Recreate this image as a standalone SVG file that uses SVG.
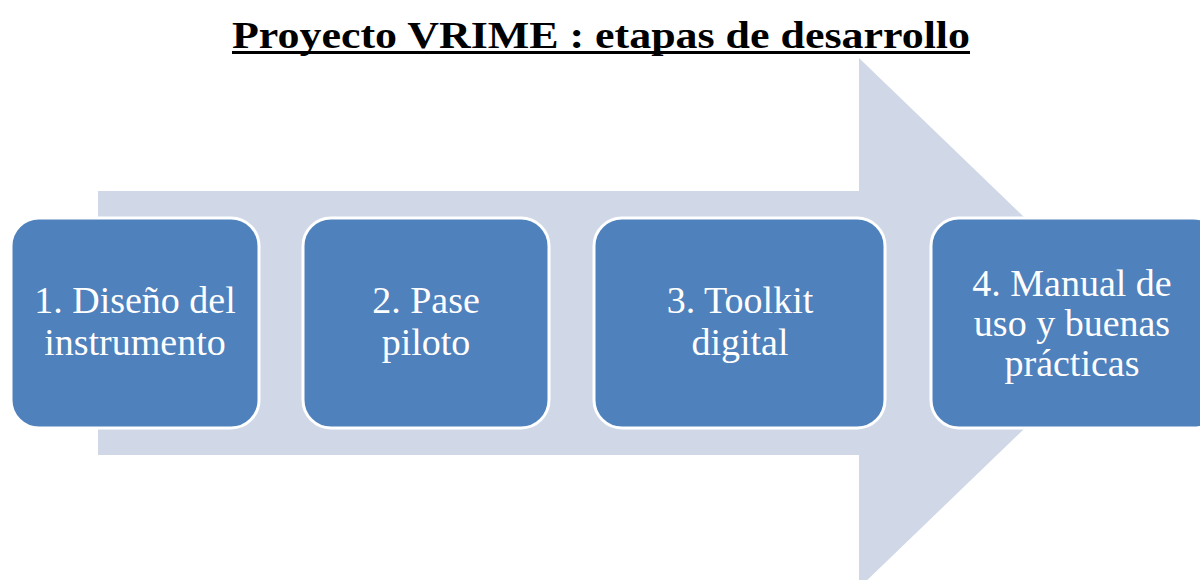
<svg xmlns="http://www.w3.org/2000/svg" width="1200" height="580" viewBox="0 0 1200 580">
<style>
.box{fill:#4f81bd;stroke:#ffffff;stroke-width:3}
.lbl{font-family:"Liberation Serif","DejaVu Serif",serif;font-size:38px;fill:#ffffff;text-anchor:middle}
.title{font-family:"Liberation Serif","DejaVu Serif",serif;font-size:38px;font-weight:bold;fill:#000000}
</style>
<rect width="1200" height="580" fill="#ffffff"/>
<g id="title">
<text class="title" x="232" y="48" textLength="738" lengthAdjust="spacingAndGlyphs">Proyecto VRIME : etapas de desarrollo</text>
<rect x="232" y="51" width="738" height="3" fill="#000000"/>
</g>
<g id="connectors">
<polygon points="98,191 859,191 859,58 1134,323 859,588 859,455 98,455" fill="#d0d8e8"/>
</g>
<g id="node1">
<rect class="box" x="11" y="218" width="248" height="210" rx="28"/>
<text class="lbl" x="135" y="313">1. Diseño del</text>
<text class="lbl" x="135" y="355">instrumento</text>
</g>
<g id="node2">
<rect class="box" x="303" y="218" width="246" height="210" rx="28"/>
<text class="lbl" x="426" y="313">2. Pase</text>
<text class="lbl" x="426" y="355">piloto</text>
</g>
<g id="node3">
<rect class="box" x="594" y="218" width="291" height="210" rx="28"/>
<text class="lbl" x="740" y="313">3. Toolkit</text>
<text class="lbl" x="740" y="355">digital</text>
</g>
<g id="node4">
<rect class="box" x="931" y="218" width="290" height="210" rx="28"/>
<text class="lbl" x="1072" y="296">4. Manual de</text>
<text class="lbl" x="1072" y="336">uso y buenas</text>
<text class="lbl" x="1072" y="376">prácticas</text>
</g>
</svg>
